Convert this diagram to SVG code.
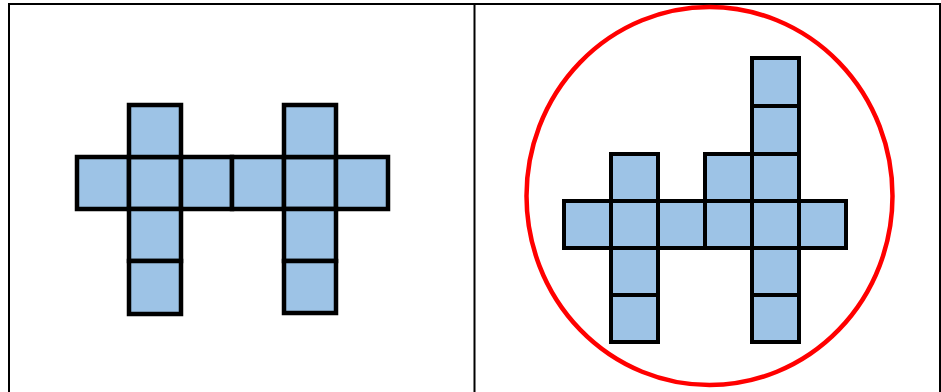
<svg xmlns="http://www.w3.org/2000/svg" width="941" height="392" viewBox="0 0 941 392">
<style>
.c{fill:#9dc3e6;stroke:#000;stroke-width:4.5}
.d{fill:#9dc3e6;stroke:#000;stroke-width:4}
.t{stroke:#000;stroke-width:2;fill:none}
</style>
<rect width="941" height="392" fill="#fff"/>
<g id="table">
<path class="t" d="M9,392V4H940V392M474.5,4V392"/>
</g>
<g id="net-left">
<rect class="c" x="77" y="157" width="52" height="52"/>
<rect class="c" x="129" y="157" width="52" height="52"/>
<rect class="c" x="181" y="157" width="51" height="52"/>
<rect class="c" x="232" y="157" width="52" height="52"/>
<rect class="c" x="284" y="157" width="52" height="52"/>
<rect class="c" x="336" y="157" width="52" height="52"/>
<rect class="c" x="129" y="105" width="52" height="52"/>
<rect class="c" x="129" y="209" width="52" height="52"/>
<rect class="c" x="129" y="261" width="52" height="53"/>
<rect class="c" x="284" y="105" width="52" height="52"/>
<rect class="c" x="284" y="209" width="52" height="52"/>
<rect class="c" x="284" y="261" width="52" height="52"/>
</g>
<g id="net-right">
<rect class="d" x="564" y="201" width="47" height="47"/>
<rect class="d" x="611" y="201" width="47" height="47"/>
<rect class="d" x="658" y="201" width="47" height="47"/>
<rect class="d" x="705" y="201" width="47" height="47"/>
<rect class="d" x="752" y="201" width="47" height="47"/>
<rect class="d" x="799" y="201" width="47" height="47"/>
<rect class="d" x="611" y="154" width="47" height="47"/>
<rect class="d" x="611" y="248" width="47" height="47"/>
<rect class="d" x="611" y="295" width="47" height="47"/>
<rect class="d" x="705" y="154" width="47" height="47"/>
<rect class="d" x="752" y="154" width="47" height="47"/>
<rect class="d" x="752" y="106" width="47" height="48"/>
<rect class="d" x="752" y="58" width="47" height="48"/>
<rect class="d" x="752" y="248" width="47" height="47"/>
<rect class="d" x="752" y="295" width="47" height="47"/>
</g>
<g id="highlight">
<ellipse cx="709.5" cy="196" rx="183" ry="189" fill="none" stroke="#ff0000" stroke-width="4.5"/>
</g>
</svg>
